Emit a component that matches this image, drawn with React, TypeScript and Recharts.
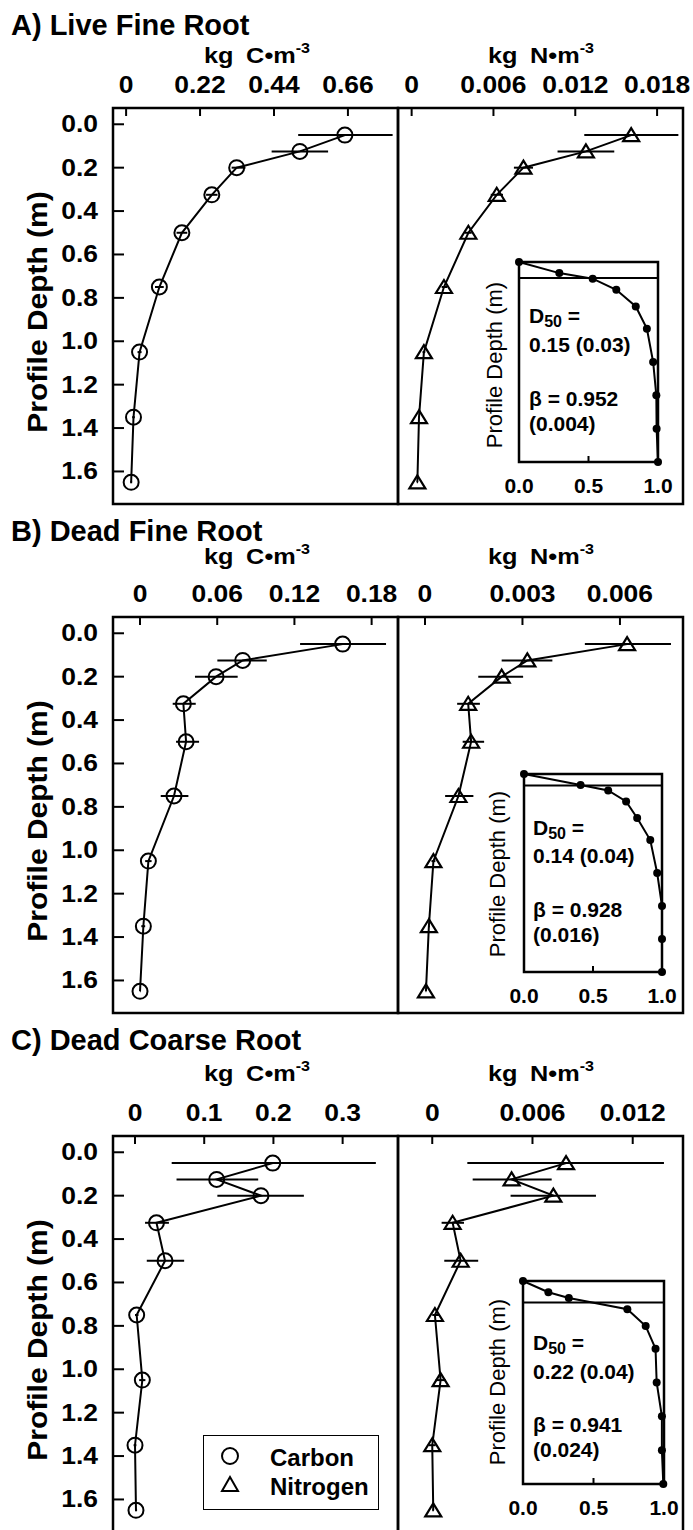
import React from "react";
import { ScatterChart, Scatter, XAxis, YAxis, ErrorBar, ReferenceArea, ReferenceLine, Legend } from "recharts";

const FONT = "'Liberation Sans', Arial, sans-serif";

// sampling depths (m), midpoints of the soil layers
const DEPTH = [0.05, 0.125, 0.2, 0.325, 0.5, 0.75, 1.05, 1.35, 1.65];
const DEPTH_TICKS = [0, 0.2, 0.4, 0.6, 0.8, 1.0, 1.2, 1.4, 1.6];
const DEPTH_DOMAIN: [number, number] = [-0.075, 1.75];

// A) live fine root
const liveC = [0.651, 0.517, 0.329, 0.255, 0.166, 0.099, 0.04, 0.022, 0.015];
const liveCLo = [0.512, 0.433, 0.314, 0.238, 0.15, 0.086, 0.034, 0.018, 0.012];
const liveCHi = [0.793, 0.601, 0.355, 0.272, 0.182, 0.112, 0.046, 0.026, 0.018];
const liveN = [0.0161, 0.01278, 0.0082, 0.00624, 0.00416, 0.00237, 0.0009, 0.00054, 0.00042];
const liveNLo = [0.01266, 0.0107, 0.0075, 0.0058, 0.0039, 0.0022, 0.0008, 0.00048, 0.00038];
const liveNHi = [0.01956, 0.01486, 0.0089, 0.0067, 0.0044, 0.0026, 0.001, 0.0006, 0.00046];

// B) dead fine root
const deadFineC = [0.1575, 0.0798, 0.0591, 0.0337, 0.0358, 0.0264, 0.0065, 0.0026, 0.0];
const deadFineCLo = [0.1244, 0.0601, 0.0427, 0.0254, 0.028, 0.0161, 0.004, 0.001, 0.0];
const deadFineCHi = [0.1912, 0.0985, 0.0759, 0.0433, 0.0459, 0.0376, 0.009, 0.004, 0.0005];
const deadFineN = [0.00622, 0.00315, 0.00236, 0.00133, 0.00142, 0.00103, 0.00026, 0.00012, 0.00003];
const deadFineNLo = [0.00492, 0.00236, 0.00164, 0.00099, 0.00116, 0.00062, 0.0002, 0.0001, 0.00002];
const deadFineNHi = [0.00757, 0.00392, 0.00302, 0.00169, 0.00182, 0.00149, 0.00032, 0.00015, 0.00004];

// C) dead coarse root
const coarseC = [0.199, 0.118, 0.182, 0.031, 0.0434, 0.0024, 0.0106, 0.0, 0.0014];
const coarseCLo = [0.053, 0.06, 0.119, 0.0145, 0.017, 0.0, 0.006, -0.002, 0.0];
const coarseCHi = [0.348, 0.178, 0.244, 0.049, 0.071, 0.005, 0.015, 0.002, 0.003];
const coarseN = [0.00801, 0.00475, 0.00725, 0.00122, 0.0017, 0.00016, 0.0005, 0.0, 0.00006];
const coarseNLo = [0.0021, 0.00242, 0.00469, 0.00056, 0.00072, 0.0, 0.0002, -0.0002, 0.0];
const coarseNHi = [0.01387, 0.00715, 0.0098, 0.0019, 0.00275, 0.0004, 0.0008, 0.0002, 0.0001];

// insets: cumulative fraction against layer bottom depth
const INSET_DEPTH = [0, 0.1, 0.15, 0.25, 0.4, 0.6, 0.9, 1.2, 1.5, 1.8];
const liveCum = [0, 0.29, 0.53, 0.7, 0.84, 0.92, 0.965, 0.988, 0.99, 1.0];
const deadFineCum = [0, 0.41, 0.61, 0.74, 0.82, 0.915, 0.965, 1.0, 1.0, 1.0];
const coarseCum = [0, 0.18, 0.325, 0.74, 0.87, 0.94, 0.948, 0.985, 0.985, 0.995];
const halfDepth = [0.145, 0.105, 0.19];
const d50Text = ["0.15 (0.03)", "0.14 (0.04)", "0.22 (0.04)"];
const betaText = ["0.952", "0.928", "0.941"];
const betaSeText = ["(0.004)", "(0.016)", "(0.024)"];

const rows = (v: number[], lo: number[], hi: number[]) =>
  DEPTH.map((d, i) => ({ d, v: v[i], err: [v[i] - lo[i], hi[i] - v[i]] }));

const PLOT_H = 396;
const PLOT_W = 285;
const TOP_H = 40;
const PAD_R = 14;

const stretch = (origin: string, k = 1.15) => ({
  transformBox: "fill-box" as const,
  transformOrigin: origin,
  transform: `scaleX(${k})`,
});

const TopTick = ({ x, y, payload }: any) => (
  <text x={x} y={y} textAnchor="middle" fontFamily={FONT} fontWeight="bold" fontSize={23} fill="#000" style={stretch("center")}>
    {String(payload.value)}
  </text>
);

const LeftTick = ({ x, y, payload }: any) => (
  <text x={x} y={y} dy={8} textAnchor="end" fontFamily={FONT} fontWeight="bold" fontSize={23} fill="#000" style={stretch("right")}>
    {Number(payload.value).toFixed(1)}
  </text>
);

const InsetTick = ({ x, y, payload }: any) => (
  <text x={x} y={y} dy={15} textAnchor="middle" fontFamily={FONT} fontWeight="bold" fontSize={21} fill="#000">
    {Number(payload.value).toFixed(1)}
  </text>
);

const Circle = (p: any) => <circle cx={p.cx} cy={p.cy} r={7.5} fill="none" stroke="#000" strokeWidth={2} />;
const Triangle = (p: any) => (
  <polygon
    points={`${p.cx},${p.cy - 7} ${p.cx - 8},${p.cy + 6} ${p.cx + 8},${p.cy + 6}`}
    fill="none"
    stroke="#000"
    strokeWidth={2.2}
  />
);
const Dot = (p: any) => <circle cx={p.cx} cy={p.cy} r={4} fill="#000" />;

const LegendBox = () => (
  <div style={{ width: 176, height: 75, border: "1.5px solid #000", boxSizing: "border-box", background: "#fff" }}>
    <svg width={173} height={72} style={{ display: "block" }}>
      <circle cx={26} cy={20} r={8} fill="none" stroke="#000" strokeWidth={2} />
      <text x={66} y={30} fontFamily={FONT} fontWeight="bold" fontSize={24}>Carbon</text>
      <polygon points="26,41 18,55 34,55" fill="none" stroke="#000" strokeWidth={2} />
      <text x={66} y={59} fontFamily={FONT} fontWeight="bold" fontSize={24}>Nitrogen</text>
    </svg>
  </div>
);

function ProfilePlot({ left, frameTop, yAxisW, data, xDomain, xTicks, marker, depthLabels, legend }: any) {
  return (
    <div style={{ position: "absolute", left, top: frameTop - TOP_H }}>
      <ScatterChart width={yAxisW + PLOT_W + PAD_R} height={TOP_H + PLOT_H + 3} margin={{ top: 0, right: PAD_R, bottom: 3, left: 0 }}>
        <XAxis
          type="number"
          dataKey="v"
          orientation="top"
          domain={xDomain}
          ticks={xTicks}
          interval={0}
          height={TOP_H}
          allowDataOverflow
          axisLine={false}
          tickLine={{ stroke: "#000", strokeWidth: 2 }}
          tickSize={-8}
          tickMargin={23}
          tick={<TopTick />}
        />
        <YAxis
          type="number"
          dataKey="d"
          reversed
          domain={DEPTH_DOMAIN}
          ticks={DEPTH_TICKS}
          interval={0}
          width={yAxisW}
          allowDataOverflow
          axisLine={false}
          tickLine={{ stroke: "#000", strokeWidth: 2 }}
          tickSize={-11}
          tickMargin={26}
          tick={depthLabels ? <LeftTick /> : false}
        />
        <ReferenceArea
          x1={xDomain[0]}
          x2={xDomain[1]}
          y1={DEPTH_DOMAIN[0]}
          y2={DEPTH_DOMAIN[1]}
          fill="none"
          fillOpacity={0}
          stroke="#000"
          strokeWidth={2.5}
          ifOverflow="visible"
        />
        <Scatter data={data} fill="none" line={{ stroke: "#000", strokeWidth: 2 }} shape={marker} isAnimationActive={false}>
          <ErrorBar dataKey="err" direction="x" width={0} stroke="#000" strokeWidth={2} />
        </Scatter>
        {legend && (
          <Legend
            layout="vertical"
            align="center"
            verticalAlign="middle"
            content={() => <LegendBox />}
            wrapperStyle={{ left: legend.left, top: legend.top, width: 176, height: 75 }}
          />
        )}
      </ScatterChart>
    </div>
  );
}

function Inset({ box, cum, half, lines, textX, labelX, labelY, idx }: any) {
  const padL = 40, padT = 6, padR = 24, padB = 40;
  const data = INSET_DEPTH.map((d, i) => ({ f: cum[i], d }));
  const w = padL + box.w + padR;
  const h = padT + box.h + padB;
  const txt = { fontFamily: FONT, fontWeight: "bold" as const, fontSize: 21, fill: "#000" };
  return (
    <div style={{ position: "absolute", left: box.left - padL, top: box.top - padT, width: w, height: h }}>
      <ScatterChart width={w} height={h} margin={{ top: padT, right: padR, bottom: 0, left: padL }}>
        <XAxis
          type="number"
          dataKey="f"
          domain={[0, 1]}
          ticks={[0, 0.5, 1]}
          interval={0}
          height={padB}
          axisLine={false}
          tickLine={{ stroke: "#000", strokeWidth: 2 }}
          tickSize={-6}
          tickMargin={22}
          tick={<InsetTick />}
        />
        <YAxis type="number" dataKey="d" reversed domain={[0, 1.8]} hide />
        <ReferenceArea x1={0} x2={1} y1={0} y2={1.8} fill="none" fillOpacity={0} stroke="#000" strokeWidth={2.5} ifOverflow="visible" />
        <ReferenceLine y={half} stroke="#000" strokeWidth={2} />
        <Scatter data={data} fill="#000" line={{ stroke: "#000", strokeWidth: 2 }} shape={<Dot />} isAnimationActive={false} />
      </ScatterChart>
      <svg width={w} height={h} style={{ position: "absolute", left: 0, top: 0, pointerEvents: "none" }}>
        <text
          transform={`translate(${padL + labelX} ${padT + labelY}) rotate(-90)`}
          textAnchor="middle"
          fontFamily={FONT}
          fontSize={22}
          fill="#000"
        >
          Profile Depth (m)
        </text>
        <text x={padL + textX} y={padT + lines[0]} {...txt}>
          D<tspan dy={4} fontSize={16}>50</tspan>
          <tspan dy={-4}> =</tspan>
        </text>
        <text x={padL + textX} y={padT + lines[1]} {...txt}>{d50Text[idx]}</text>
        <text x={padL + textX} y={padT + lines[2]} {...txt}>β = {betaText[idx]}</text>
        <text x={padL + textX} y={padT + lines[3]} {...txt}>{betaSeText[idx]}</text>
      </svg>
    </div>
  );
}

const panels = [
  {
    title: "A) Live Fine Root", frameTop: 108, titleY: 35, unitY: 63,
    c: rows(liveC, liveCLo, liveCHi), cDomain: [-0.039, 0.809], cTicks: [0, 0.22, 0.44, 0.66],
    n: rows(liveN, liveNLo, liveNHi), nDomain: [-0.001, 0.0199], nTicks: [0, 0.006, 0.012, 0.018],
    inset: { box: { left: 519, top: 262, w: 139, h: 200 }, cum: liveCum, lines: [61, 90, 144, 169], textX: 10, labelX: -17, labelY: 103 },
  },
  {
    title: "B) Dead Fine Root", frameTop: 617, titleY: 541, unitY: 564,
    c: rows(deadFineC, deadFineCLo, deadFineCHi), cDomain: [-0.021, 0.2005], cTicks: [0, 0.06, 0.12, 0.18],
    n: rows(deadFineN, deadFineNLo, deadFineNHi), nDomain: [-0.00083, 0.00794], nTicks: [0, 0.003, 0.006],
    inset: { box: { left: 524, top: 774, w: 138, h: 198 }, cum: deadFineCum, lines: [61, 89, 143, 168], textX: 9, labelX: -19, labelY: 100 },
  },
  {
    title: "C) Dead Coarse Root", frameTop: 1136, titleY: 1050, unitY: 1081,
    c: rows(coarseC, coarseCLo, coarseCHi), cDomain: [-0.0318, 0.38], cTicks: [0, 0.1, 0.2, 0.3],
    n: rows(coarseN, coarseNLo, coarseNHi), nDomain: [-0.00205, 0.01501], nTicks: [0, 0.006, 0.012],
    inset: { box: { left: 523, top: 1281, w: 141, h: 203 }, cum: coarseCum, lines: [69, 98, 151, 176], textX: 10, labelX: -18, labelY: 101 },
    legend: { left: 203, top: 1435 - (1136 - TOP_H) },
  },
];

const UnitTitle = ({ x, y, el }: { x: number; y: number; el: string }) => (
  <text x={x} y={y} textAnchor="middle" fontFamily={FONT} fontWeight="bold" fontSize={22} fill="#000" style={stretch("center", 1.15)}>
    kg{"\u2002"}{el}{"\u2022"}m<tspan dy={-10} fontSize={14}>-3</tspan>
  </text>
);

export default function App() {
  return (
    <div style={{ position: "absolute", left: 0, top: 0, width: 693, height: 1530, background: "#fff", overflow: "hidden" }}>
      {panels.map((p, i) => (
        <React.Fragment key={p.title}>
          <ProfilePlot left={0} frameTop={p.frameTop} yAxisW={113} data={p.c} xDomain={p.cDomain} xTicks={p.cTicks} marker={Circle} depthLabels legend={p.legend} />
          <ProfilePlot left={388} frameTop={p.frameTop} yAxisW={10} data={p.n} xDomain={p.nDomain} xTicks={p.nTicks} marker={Triangle} depthLabels={false} />
          <Inset {...p.inset} half={halfDepth[i]} idx={i} />
        </React.Fragment>
      ))}
      <svg width={693} height={1530} style={{ position: "absolute", left: 0, top: 0, pointerEvents: "none" }}>
        {panels.map((p) => (
          <g key={p.title}>
            <text x={11} y={p.titleY} fontFamily={FONT} fontWeight="bold" fontSize={29} fill="#000">{p.title}</text>
            <UnitTitle x={257} y={p.unitY} el="C" />
            <UnitTitle x={541} y={p.unitY} el="N" />
            <text
              transform={`translate(47 ${p.frameTop + PLOT_H / 2 + 6}) rotate(-90) scale(1.07 1)`}
              textAnchor="middle"
              fontFamily={FONT}
              fontWeight="bold"
              fontSize={28}
              fill="#000"
            >
              Profile Depth (m)
            </text>
          </g>
        ))}
      </svg>
    </div>
  );
}
